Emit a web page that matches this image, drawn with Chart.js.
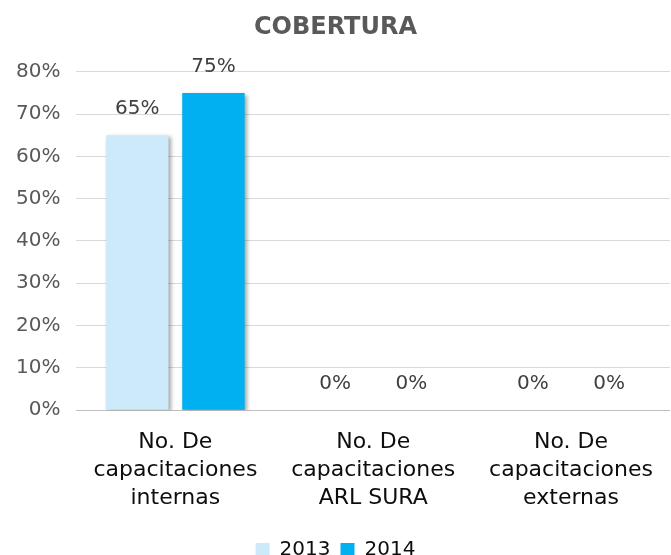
<!DOCTYPE html>
<html>
<head>
<meta charset="utf-8">
<script src="https://cdn.jsdelivr.net/npm/chart.js@4"></script>
<style>
	html, body { margin: 0; padding: 0; background: #fff; }
	#wrap { width: 671px; height: 555px; }
</style>
</head>
<body>
<div id="wrap"><canvas id="coberturaChart"></canvas></div>
<script>
var categories = [
	['No. De', 'capacitaciones', 'internas'],
	['No. De', 'capacitaciones', 'ARL SURA'],
	['No. De', 'capacitaciones', 'externas']
];
var values2013 = [65, 0, 0];
var values2014 = [75, 0, 0];
var yTicks = [0, 10, 20, 30, 40, 50, 60, 70, 80];

var fontFamily = '"DejaVu Sans", sans-serif';

// draws the value over each bar, like the excel data labels
var valueLabels = {
	id: 'valueLabels',
	afterDatasetsDraw: function (chart) {
		var ctx = chart.ctx;
		ctx.save();
		ctx.font = '20px ' + fontFamily;
		ctx.fillStyle = '#404040';
		ctx.textAlign = 'center';
		ctx.textBaseline = 'bottom';
		chart.data.datasets.forEach(function (ds, i) {
			chart.getDatasetMeta(i).data.forEach(function (bar, j) {
				ctx.fillText(ds.data[j] + '%', bar.x, bar.y - 16);
			});
		});
		ctx.restore();
	}
};

var barShadow = {
	id: 'barShadow',
	beforeDatasetsDraw: function (chart) {
		var ctx = chart.ctx;
		ctx.save();
		ctx.shadowColor = 'rgba(0,0,0,0.35)';
		ctx.shadowBlur = 4;
		ctx.shadowOffsetX = 2;
		ctx.shadowOffsetY = 2;
	},
	afterDatasetsDraw: function (chart) {
		chart.ctx.restore();
	}
};

var chartConfig = {
	type: 'bar',
	data: {
		labels: categories,
		datasets: [{
			label: '2013',
			data: values2013,
			backgroundColor: '#cdeafb'
		}, {
			label: '2014',
			data: values2014,
			backgroundColor: '#00b0f0'
		}]
	},
	options: {
		responsive: true,
		maintainAspectRatio: false,
		animation: false,
		layout: { padding: { left: 0, right: 0, top: 0, bottom: -15 } },
		datasets: {
			bar: { categoryPercentage: 0.77, barPercentage: 0.82 }
		},
		scales: {
			x: {
				grid: { display: false, drawTicks: false },
				border: { color: '#bfbfbf', width: 1 },
				ticks: {
					color: '#0d0d0d',
					font: { family: fontFamily, size: 22, lineHeight: 1.27 },
					padding: 18,
					maxRotation: 0
				}
			},
			y: {
				min: 0,
				max: 80,
				afterBuildTicks: function (axis) {
					axis.ticks = yTicks.map(function (v) { return { value: v }; });
				},
				grid: { color: '#d9d9d9', drawTicks: false },
				border: { display: false },
				ticks: {
					color: '#595959',
					font: { family: fontFamily, size: 20 },
					padding: 16,
					callback: function (v) { return v + '%'; }
				}
			}
		},
		plugins: {
			title: {
				display: true,
				text: 'COBERTURA',
				color: '#595959',
				font: { family: fontFamily, size: 24, weight: 'bold' },
				padding: { top: 13, bottom: 30 }
			},
			legend: {
				position: 'bottom',
				labels: {
					color: '#0d0d0d',
					font: { family: fontFamily, size: 20 },
					boxWidth: 14,
					boxHeight: 14,
					padding: 10
				}
			},
			tooltip: { enabled: false }
		}
	},
	plugins: [barShadow, valueLabels]
};

// eslint-disable-next-line no-undef
var chart = new Chart(
	document.getElementById('coberturaChart'),
	chartConfig
);
</script>
</body>
</html>
